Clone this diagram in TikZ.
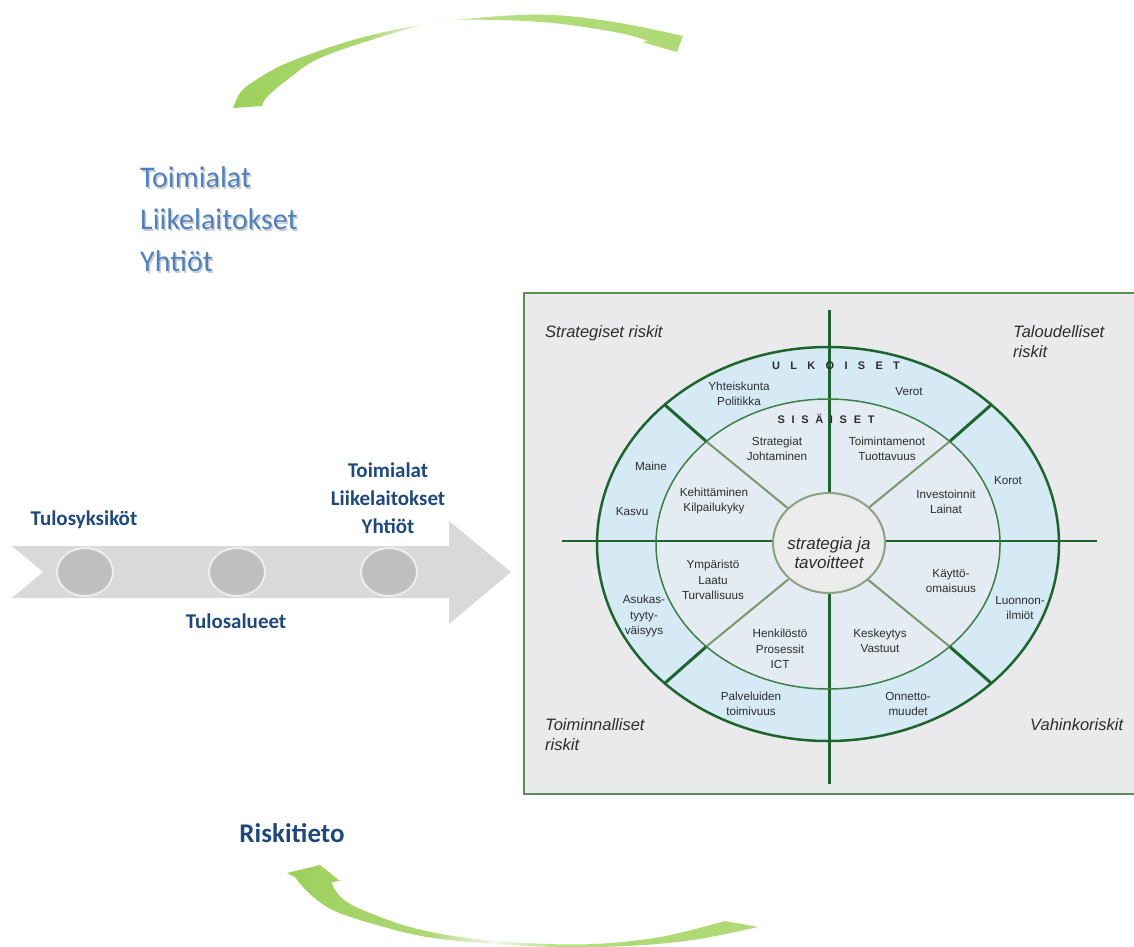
\documentclass[tikz,border=0pt]{standalone}
\usepackage{fontspec}
\setmainfont{Liberation Sans}
\newfontfamily\calibri{Carlito}
\usetikzlibrary{shapes.geometric,calc}
\definecolor{arcg}{RGB}{158,208,92}
\definecolor{arcl}{RGB}{176,218,118}
\definecolor{navy}{RGB}{31,73,125}
\definecolor{steel}{RGB}{79,129,189}
\definecolor{arrowgray}{RGB}{217,217,217}
\definecolor{dotgray}{RGB}{191,191,191}
\definecolor{dotedge}{RGB}{236,236,236}
\definecolor{boxfill}{RGB}{234,234,236}
\definecolor{boxedge}{RGB}{95,140,85}
\definecolor{ringblue}{RGB}{214,234,246}
\definecolor{innerfill}{RGB}{228,235,242}
\definecolor{centerfill}{RGB}{236,236,236}
\definecolor{dkgreen}{RGB}{30,100,45}
\definecolor{mdgreen}{RGB}{60,128,70}
\definecolor{ltgreen}{RGB}{122,152,110}
\definecolor{cgreen}{RGB}{140,162,128}
\definecolor{txt}{RGB}{45,45,45}
\pgfdeclarehorizontalshading{toparc}{100bp}{color(0bp)=(arcg); color(25bp)=(arcg); color(40bp)=(arcg!85!white); color(47.5bp)=(arcg!12!white); color(53bp)=(arcl!85!white); color(62bp)=(arcl); color(100bp)=(arcl)}
\pgfdeclarehorizontalshading{botarc}{100bp}{color(0bp)=(arcg); color(25bp)=(arcg); color(40bp)=(arcg!85!white); color(47bp)=(arcg!12!white); color(53bp)=(arcl!85!white); color(62bp)=(arcl); color(100bp)=(arcl)}
\tikzset{
  lbl/.style={font=\fontsize{11.7}{15.5}\selectfont, text=txt, align=center, inner sep=0pt},
  quad/.style={font=\fontsize{16.5}{20}\selectfont\itshape, text=txt, align=left, inner sep=0pt},
  navylbl/.style={font=\calibri\bfseries\fontsize{21}{28}\selectfont, text=navy, align=center, inner sep=0pt},
  bluelbl/.style={font=\calibri\fontsize{30}{36}\selectfont, text=steel, anchor=west, inner sep=0pt},
  shadowlbl/.style={font=\calibri\fontsize{30}{36}\selectfont, text=black!20, anchor=west, inner sep=0pt},
  dot/.style={ellipse, minimum width=56pt, minimum height=48pt, fill=dotgray, draw=dotedge, line width=2pt, inner sep=0pt},
  thick line/.style={draw=dkgreen, line width=3pt},
}
\begin{document}
\begin{tikzpicture}[x=1pt,y=-1pt]
\useasboundingbox (0,0) rectangle (1134,946);
\clip (0,0) rectangle (1134,946);

% ---- top curved arrow
\shade[shading=toparc] plot[smooth, tension=0.6] coordinates {(233,108) (240,93) (253,82) (287,63) (353,40) (420,25) (487,17) (553,15) (620,23) (683,36)} -- (677,52) -- (642,42) -- plot[smooth, tension=0.6] coordinates {(648,41) (620,33) (553,23) (487,20) (437,22) (387,35) (320,58) (287,80) (267,97) (262,106)} -- cycle;

% ---- top-left blue text
\foreach \t/\y in {Toimialat/177, Liikelaitokset/219, Yhtiöt/261}{
  \node[shadowlbl] at (141.5,\y+2.2) {\t};
}
\node[bluelbl] (tA) at (140,177) {Toimialat};
\node[bluelbl] (tB) at (140,219) {Liikelaitokset};
\node[bluelbl] (tC) at (140,261) {Yhtiöt};

% ---- grey process arrow
\fill[arrowgray] (12,546) -- (449,546) -- (449,521) -- (511,572) -- (449,624) -- (449,598) -- (12,598) -- (43,572) -- cycle;
\node[dot] (d1) at (85,572) {};
\node[dot] (d2) at (237,572) {};
\node[dot] (d3) at (389,572) {};
\node[navylbl] (l1) at (84,520) {Tulosyksiköt};
\node[navylbl] (l2) at (236,621) {Tulosalueet};
\node[navylbl] (l3) at (388,498) {Toimialat\\Liikelaitokset\\Yhtiöt};

% ---- Riskitieto
\node[font=\calibri\bfseries\fontsize{27}{32}\selectfont, text=navy, inner sep=0pt] (rk) at (292,833) {Riskitieto};

% ---- bottom curved arrow
\shade[shading=botarc] (287,873) -- (320,865) -- (340,881) -- plot[smooth, tension=0.6] coordinates {(332,882) (335,890) (347,902) (370,913) (410,927) (460,937) (527,943) (593,944) (660,937) (725,921)} -- plot[smooth, tension=0.6] coordinates {(758,927) (693,940) (627,946) (560,947) (493,944) (427,937) (377,925) (337,912) (317,900) (303,887) (295,877)} -- cycle;

% ---- risk map box
\fill[boxfill] (524,293) rectangle (1150,794);
\draw[boxedge, line width=1.6pt] (524,293) rectangle (1150,794);

\coordinate (C) at (828,544);
\fill[ringblue] (C) ellipse [x radius=231pt, y radius=197pt];
\fill[innerfill] (C) ellipse [x radius=172pt, y radius=145pt];

% diagonals
\foreach \a in {45,135,225,315}{
  \draw[dkgreen, line width=3pt] ($(C)+(\a:231pt and 197pt)$) -- ($(C)+(\a:172pt and 145pt)$);
  \draw[ltgreen, line width=2pt] ($(C)+(\a:172pt and 145pt)$) -- ($(C)+(\a:56pt and 50pt)$);
}
% cross lines
\draw[thick line] (829,310) -- (829,784);
\draw[dkgreen, line width=2.6pt] (562,541) -- (1097,541);

\draw[dkgreen, line width=2.5pt] (C) ellipse [x radius=231pt, y radius=197pt];
\draw[mdgreen, line width=1.5pt] (C) ellipse [x radius=172pt, y radius=145pt];

\node[ellipse, minimum width=112pt, minimum height=100pt, fill=centerfill, draw=cgreen, line width=2pt, inner sep=0pt] (core) at (829,543) {};
\node[font=\fontsize{17}{19.5}\selectfont\itshape, text=txt, align=center, inner sep=0pt] (coretxt) at (829,553) {strategia ja\\tavoitteet};

% ring headings
\node[font=\bfseries\fontsize{11}{13}\selectfont, text=txt, inner sep=0pt] (ulk) at (836,366) {U\hspace{10.3pt}L\hspace{10.3pt}K\hspace{10.3pt}O\hspace{10.3pt}I\hspace{10.3pt}S\hspace{10.3pt}E\hspace{10.3pt}T};
\node[font=\bfseries\fontsize{11}{13}\selectfont, text=txt, inner sep=0pt] (sis) at (826,419) {S\hspace{6.7pt}I\hspace{6.7pt}S\hspace{6.7pt}Ä\hspace{6.7pt}I\hspace{6.7pt}S\hspace{6.7pt}E\hspace{6.7pt}T};

% sector texts
\node[lbl] (n1) at (739,394) {Yhteiskunta\\Politikka};
\node[lbl] (n2) at (909,392) {Verot};
\node[lbl] (n3) at (777,449) {Strategiat\\Johtaminen};
\node[lbl] (n4) at (887,449) {Toimintamenot\\Tuottavuus};
\node[lbl] (n5) at (651,466) {Maine};
\node[lbl] (n6) at (632,512) {Kasvu};
\node[lbl] (n7) at (714,501) {Kehittäminen\\Kilpailukyky};
\node[lbl] (n8) at (1008,481) {Korot};
\node[lbl] (n9) at (946,502) {Investoinnit\\Lainat};
\node[lbl] (n10) at (713,580) {Ympäristö\\Laatu\\Turvallisuus};
\node[lbl] (n11) at (644,616) {Asukas-\\tyyty-\\väisyys};
\node[lbl] (n12) at (780,649) {Henkilöstö\\Prosessit\\ICT};
\node[lbl] (n13) at (880,641) {Keskeytys\\Vastuut};
\node[lbl] (n14) at (951,581) {Käyttö-\\omaisuus};
\node[lbl] (n15) at (1020,608) {Luonnon-\\ilmiöt};
\node[lbl] (n16) at (751,704) {Palveluiden\\toimivuus};
\node[lbl] (n17) at (908,704) {Onnetto-\\muudet};

% quadrant titles
\node[quad, anchor=west] (q1) at (545,333) {Strategiset riskit};
\node[quad, anchor=west] (q2) at (1013,342) {Taloudelliset\\riskit};
\node[quad, anchor=west] (q3) at (545,735) {Toiminnalliset\\riskit};
\node[quad, anchor=west] (q4) at (1030,725) {Vahinkoriskit};
\end{tikzpicture}
\end{document}
